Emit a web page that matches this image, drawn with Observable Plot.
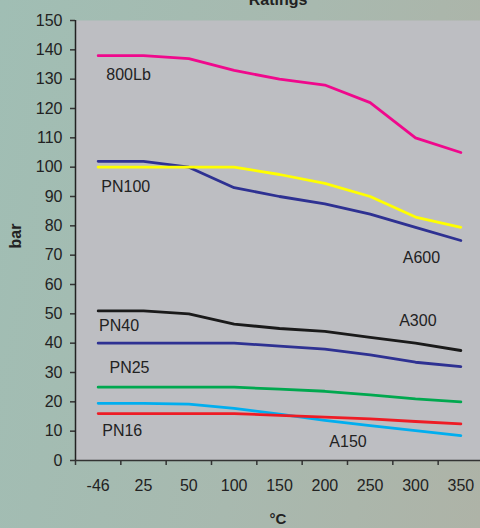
<!DOCTYPE html>
<html>
<head>
<meta charset="utf-8">
<script src="https://cdn.jsdelivr.net/npm/d3@7"></script>
<script src="https://cdn.jsdelivr.net/npm/@observablehq/plot@0.6"></script>
<style>
  html, body { margin: 0; padding: 0; }
  body { width: 480px; height: 528px; overflow: hidden; background: #a6b8ae; }
  #chart svg { display: block; }
</style>
</head>
<body>
<div id="chart"></div>
<script>
const categories = ["-46", "25", "50", "100", "150", "200", "250", "300", "350"];
const yTicks = [0, 10, 20, 30, 40, 50, 60, 70, 80, 90, 100, 110, 120, 130, 140, 150];

const s800Lb = [138, 138, 137, 133, 130, 128, 122, 110, 105];
const sA600  = [102, 102, 100, 93, 90, 87.5, 84, 79.5, 75];
const sPN100 = [100, 100, 100, 100, 97.5, 94.5, 90, 83, 79.5];
const sA300  = [51, 51, 50, 46.5, 45, 44, 42, 40, 37.5];
const sPN25  = [40, 40, 40, 40, 39, 38, 36, 33.5, 32];
const sGreen = [25, 25, 25, 25, 24.3, 23.6, 22.4, 21, 20];
const sA150  = [19.5, 19.5, 19.2, 17.8, 15.8, 13.7, 11.9, 10.2, 8.5];
const sPN16  = [16, 16, 16, 16, 15.4, 14.8, 14.2, 13.3, 12.5];

const seriesList = [
  {name: "800Lb", values: s800Lb, color: "#f0088c"},
  {name: "A600", values: sA600, color: "#2e3192"},
  {name: "PN100", values: sPN100, color: "#ffff00"},
  {name: "A300", values: sA300, color: "#1a1a1a"},
  {name: "PN25", values: sPN25, color: "#2e3192"},
  {name: "PN16g", values: sGreen, color: "#00a84f"},
  {name: "A150", values: sA150, color: "#00aeef"},
  {name: "PN16", values: sPN16, color: "#ee1c25"}
];

const labelText = ["800Lb", "PN100", "A600", "PN40", "A300", "PN25", "PN16", "A150"];
const labelX = [0.18, 0.07, 6.72, 0.02, 6.64, 0.25, 0.09, 5.1];
const labelY = [131.3, 93.4, 69.2, 46.0, 47.5, 31.5, 10.2, 6.2];

const rows = seriesList.flatMap(s => s.values.map((v, i) => ({series: s.name, t: categories[i], v, color: s.color})));
const labels = labelText.map((t, i) => ({t, x: labelX[i], y: labelY[i]}));
const boundaries = d3.range(categories.length).map(i => i - 0.5);

const font = "'Liberation Sans', Arial, Helvetica, sans-serif";

const chart = Plot.plot({
  width: 480,
  height: 528,
  marginLeft: 75,
  marginRight: 0,
  marginTop: 20,
  marginBottom: 68,
  style: {fontFamily: font, fontSize: "16px", color: "#222", background: "linear-gradient(100deg, #a0beb4 0%, #a8b9af 55%, #aeb3a7 100%)"},
  x: {type: "linear", domain: [-0.5, 8.434], label: null},
  y: {domain: [0, 150], label: null},
  marks: [
    Plot.frame({fill: "#bdbec2", stroke: null}),
    Plot.axisY({ticks: yTicks, tickSize: 5, tickPadding: 8, stroke: "#333", strokeWidth: 1.5, fill: "#222", fontSize: 16}),
    Plot.axisX({ticks: d3.range(categories.length), tickSize: 0, tickPadding: 19, tickFormat: i => categories[i], fill: "#222", fontSize: 16}),
    Plot.axisX({ticks: boundaries, tickSize: 5, text: null, stroke: "#333", strokeWidth: 1.5}),
    Plot.line(rows, {x: d => categories.indexOf(d.t), y: "v", z: "series", stroke: "color", strokeWidth: 2.8, strokeLinejoin: "round"}),
    Plot.ruleY([0], {stroke: "#333", strokeWidth: 1.5}),
    Plot.ruleX([-0.5], {y1: 0, y2: 150, stroke: "#222", strokeWidth: 1.5}),
    Plot.text(labels, {x: "x", y: "y", text: "t", textAnchor: "start", fill: "#222", fontSize: 16}),
    Plot.text(["Ratings"], {frameAnchor: "top", dy: -16, lineAnchor: "bottom", fontWeight: "bold", fontSize: 16, fill: "#222"}),
    Plot.text(["bar"], {frameAnchor: "left", dx: -60, dy: 8, rotate: -90, fontWeight: "bold", fontSize: 16, fill: "#222"}),
    Plot.text(["°C"], {frameAnchor: "bottom", dy: 63, fontWeight: "bold", fontSize: 15, fill: "#222"})
  ]
});
document.getElementById("chart").appendChild(chart);
</script>
</body>
</html>
